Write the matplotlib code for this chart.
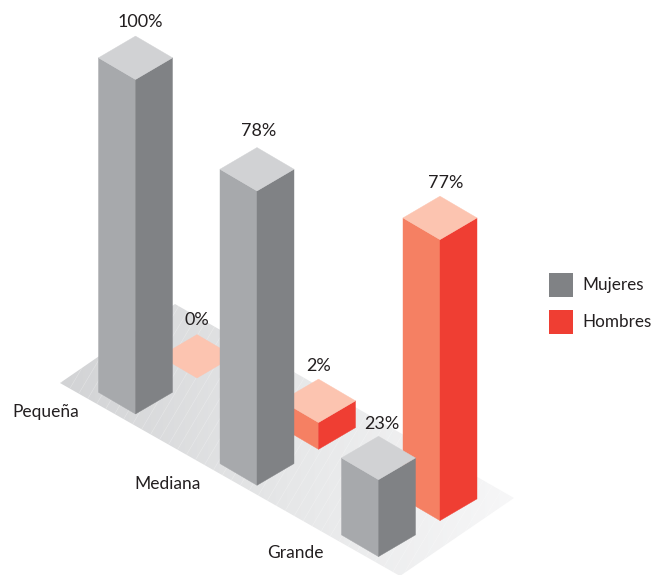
import numpy as np

import matplotlib
matplotlib.use('Agg')
import matplotlib.pyplot as plt
from matplotlib.colors import LinearSegmentedColormap
from matplotlib.patches import Polygon, Rectangle


categories = ['Pequeña', 'Mediana', 'Grande']
series_names = ['Mujeres', 'Hombres']

# printed percentages
mujeres_labels = [100, 78, 23]
hombres_labels = [0, 2, 77]

# drawn bar heights, the picture does not follow the printed numbers
mujeres_heights = [100, 88, 23]
hombres_heights = [0, 8, 84]

plt.rcParams['font.family'] = ['Lato', 'DejaVu Sans']

GRAYS = ('#d1d2d4', '#a7a9ac', '#808285')
REDS = ('#fcc4b0', '#f58063', '#ef3e33')
TEXT_COLOR = '#231f20'

# label offsets from the back corner of each bar top
mujeres_offsets = [(5, -15), (2, -18), (3, -13)]
hombres_offsets = [(0, -16), (0, -14), (6, -14)]
category_label_pos = [(12, 412), (134, 484), (267, 553)]


def project(icat, iseries, height=0):
    """
    Isometric position of the front corner of a bar

    @param icat: index along the category direction
    @param iseries: index along the series direction
    @param height: height of the point, 100 is the tallest bar
    """
    x = 135.5 + 121.5 * icat + 61.5 * iseries
    y = 414 + 71.3 * icat - 36 * iseries - 3.345 * height
    return x, y


def DrawBar(ax, icat, iseries, height, colors, label, offset):
    """
    Draw one box with its top, left and right faces and the value label
    """
    half_w, half_h = 37, 21.7
    bx, by = project(icat, iseries)
    tx, ty = project(icat, iseries, height)

    if height > 0:
        ax.add_patch(Polygon([(bx - half_w, by - half_h), (bx, by), (tx, ty), (tx - half_w, ty - half_h)],
                             facecolor=colors[1], edgecolor=colors[1], lw=0.3))
        ax.add_patch(Polygon([(bx, by), (bx + half_w, by - half_h), (tx + half_w, ty - half_h), (tx, ty)],
                             facecolor=colors[2], edgecolor=colors[2], lw=0.3))
    ax.add_patch(Polygon([(tx, ty), (tx - half_w, ty - half_h), (tx, ty - 2 * half_h), (tx + half_w, ty - half_h)],
                         facecolor=colors[0], edgecolor=colors[0], lw=0.3))

    ax.text(tx + offset[0], ty - 2 * half_h + offset[1] + 1, '{}%'.format(label), ha='center', va='center',
            fontsize=13, color=TEXT_COLOR)


fig = plt.figure(figsize=(6.52, 5.75), dpi=100)
ax = fig.add_axes([0, 0, 1, 1])

# floor with its left to right fade
floor = Polygon([(60, 383), (175, 304), (514, 498), (400, 576)], transform=ax.transData,
                facecolor='none', edgecolor='none')
ax.add_patch(floor)
fade = LinearSegmentedColormap.from_list('fade', ['#d2d3d5', '#e6e7e8', '#f7f7f8'])
image = ax.imshow(np.linspace(0, 1, 256).reshape(1, -1), cmap=fade, extent=(60, 514, 576, 304), aspect='auto',
                  zorder=0)
image.set_clip_path(floor)

# thin white hatching on the floor, kept under the bars
for x0 in range(60, 760, 12):
    line, = ax.plot([x0, x0 - 190], [304, 304 + 320], color='white', lw=0.4, alpha=0.35, zorder=0.5)
    line.set_clip_path(floor)

for icat in range(len(categories)):
    DrawBar(ax, icat, 1, hombres_heights[icat], REDS, hombres_labels[icat], hombres_offsets[icat])
    DrawBar(ax, icat, 0, mujeres_heights[icat], GRAYS, mujeres_labels[icat], mujeres_offsets[icat])

for name, pos in zip(categories, category_label_pos):
    ax.text(pos[0], pos[1], name, ha='left', va='center', fontsize=12.5, color=TEXT_COLOR)

# legend
for name, color, y in zip(series_names, (GRAYS[2], REDS[2]), (273, 310)):
    ax.add_patch(Rectangle((549, y), 24, 24, facecolor=color, edgecolor='none'))
    ax.text(582, y + 12, name, ha='left', va='center', fontsize=12.3, color=TEXT_COLOR)

ax.set_xlim(0, 652)
ax.set_ylim(575, 0)
ax.axis('off')

fig.savefig('out.png', dpi=100)
